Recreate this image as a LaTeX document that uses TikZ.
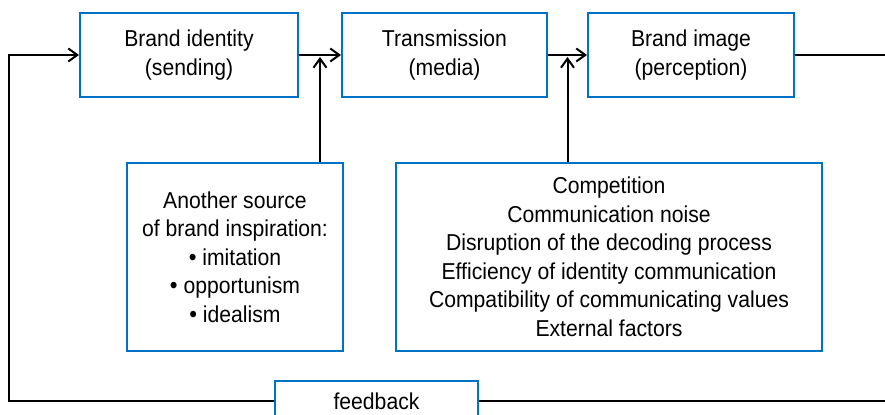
\documentclass[tikz,border=0pt]{standalone}
\usepackage{fontspec}
\setmainfont{Liberation Sans}[FakeStretch=0.92]
\usetikzlibrary{arrows.meta,positioning,calc}
\definecolor{boxblue}{RGB}{0,114,198}

\begin{document}
\begin{tikzpicture}[x=0.5pt,y=-0.5pt,
    font=\fontsize{11.5}{14.25}\selectfont,
    box/.style={rectangle,draw=boxblue,line width=1pt,inner sep=0pt,align=center},
    arr/.style={-{Straight Barb[length=4.5pt,width=6.5pt]},line width=1pt}]
    \useasboundingbox (0,0) rectangle (885,415);

    \node[box,minimum width=109pt,minimum height=42pt] (identity) at (189,55) {Brand identity\\(sending)};
    \node[box,minimum width=102.5pt,minimum height=42pt] (trans) at (444.5,55) {Transmission\\(media)};
    \node[box,minimum width=103pt,minimum height=42pt] (bimage) at (691,55) {Brand image\\(perception)};
    \node[box,minimum width=108pt,minimum height=94pt] (source) at (235,257)
        {Another source\\of brand inspiration:\\{\large\textbullet}\ imitation\\{\large\textbullet}\ opportunism\\{\large\textbullet}\ idealism};
    \node[box,minimum width=213pt,minimum height=94pt] (factors) at (609,257)
        {Competition\\Communication noise\\Disruption of the decoding process\\Efficiency of identity communication\\Compatibility of communicating values\\External factors};
    \node[box,fill=white,minimum width=101.5pt,minimum height=20pt] (feedback) at (376.5,401) {feedback};

    \coordinate (corner) at (9,55);
    \coordinate (j1) at ($(identity.east)!0.5!(trans.west)$);
    \coordinate (j2) at ($(trans.east)!0.5!(bimage.west)$);

    \draw[arr] (identity) -- (trans);
    \draw[arr] (trans) -- (bimage);
    \draw[arr] (source.north -| j1) -- ([yshift=-1pt]j1);
    \draw[arr] (factors.north -| j2) -- ([yshift=-1pt]j2);
    \draw[arr] (feedback.west) -| (corner) -- (identity.west);
    \draw[line width=1pt] (bimage.east) -- (895,55) |- (feedback.east);
\end{tikzpicture}
\end{document}
